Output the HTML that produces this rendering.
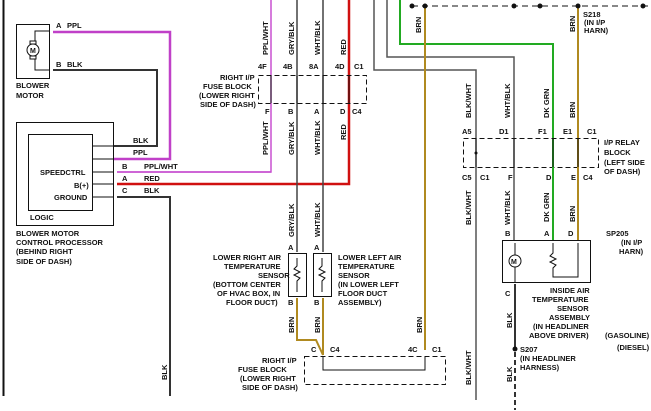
<!DOCTYPE html>
<html><head><style>
html,body{margin:0;padding:0;background:#fff;}
svg{display:block;}
text{font-family:"Liberation Sans",sans-serif;font-size:7.5px;font-weight:bold;fill:#111;}
</style></head><body>
<svg width="651" height="411" viewBox="0 0 651 411" xmlns="http://www.w3.org/2000/svg">
<rect width="651" height="411" fill="#fff"/>
<!-- left border -->
<line x1="3.5" y1="0" x2="3.5" y2="396" stroke="#111" stroke-width="2"/>
<!-- blower motor -->
<rect x="16.5" y="24.5" width="33" height="54" fill="none" stroke="#111"/>
<circle cx="33" cy="50" r="6" fill="none" stroke="#111"/>
<text x="30" y="53" style="font-size:7px">M</text>
<rect x="30" y="41" width="6" height="3" fill="none" stroke="#111"/>
<rect x="30" y="56" width="6" height="3" fill="none" stroke="#111"/>
<polyline points="35,41 35,31 50,31" fill="none" stroke="#111"/>
<polyline points="35,59 35,70 50,70" fill="none" stroke="#111"/>
<text x="56" y="28">A</text><text x="67" y="28">PPL</text>
<text x="56" y="67">B</text><text x="67" y="67">BLK</text>
<text x="16" y="88">BLOWER</text><text x="16" y="98">MOTOR</text>
<!-- PPL -->
<polyline points="53,32 170,32 170,159 113,159" fill="none" stroke="#c040c8" stroke-width="2.5"/>
<polyline points="53,70 157,70 157,146 113,146" fill="none" stroke="#333" stroke-width="2"/>
<text x="133" y="143">BLK</text><text x="133" y="155">PPL</text>
<!-- processor -->
<rect x="16.5" y="122.5" width="97" height="103" fill="none" stroke="#111"/>
<rect x="28.5" y="134.5" width="64" height="76" fill="none" stroke="#111"/>
<line x1="92" y1="146" x2="113" y2="146" stroke="#111"/>
<line x1="92" y1="159" x2="113" y2="159" stroke="#111"/>
<line x1="92" y1="172" x2="113" y2="172" stroke="#111"/>
<line x1="92" y1="184" x2="113" y2="184" stroke="#111"/>
<line x1="92" y1="197" x2="113" y2="197" stroke="#111"/>
<text x="40" y="175">SPEEDCTRL</text><text x="74" y="188">B(+)</text><text x="54" y="200">GROUND</text>
<text x="30" y="220">LOGIC</text>
<text x="16" y="236">BLOWER MOTOR</text><text x="16" y="245">CONTROL PROCESSOR</text>
<text x="16" y="254">(BEHIND RIGHT</text><text x="16" y="264">SIDE OF DASH)</text>
<text x="122" y="169">B</text><text x="144" y="169">PPL/WHT</text>
<text x="122" y="181">A</text><text x="144" y="181">RED</text>
<text x="122" y="193">C</text><text x="144" y="193">BLK</text>
<line x1="117" y1="172" x2="271" y2="172" stroke="#c850d0" stroke-width="1.5"/>
<polyline points="117,172 271,172 271,0" fill="none" stroke="#c850d0" stroke-width="1.5"/>
<polyline points="117,184 349,184 349,0" fill="none" stroke="#d01010" stroke-width="2.5"/>
<polyline points="117,197 170,197 170,396" fill="none" stroke="#333" stroke-width="2"/>
<text transform="translate(167,380) rotate(-90)">BLK</text>
<!-- top wires -->
<line x1="297" y1="0" x2="297" y2="252" stroke="#444" stroke-width="1.5"/>
<line x1="323" y1="0" x2="323" y2="252" stroke="#444" stroke-width="1.5"/>
<polyline points="374,0 374,70 476,70 476,400" fill="none" stroke="#555" stroke-width="1.5"/>
<polyline points="387,0 387,57 514,57 514,240" fill="none" stroke="#555" stroke-width="1.5"/>
<polyline points="400,0 400,44 553,44 553,240" fill="none" stroke="#22aa22" stroke-width="2"/>
<line x1="425" y1="7" x2="425" y2="350" stroke="#b08a20" stroke-width="2"/>
<line x1="578" y1="7" x2="578" y2="240" stroke="#b08a20" stroke-width="2"/>
<line x1="412" y1="6" x2="651" y2="6" stroke="#111" stroke-dasharray="6,4"/>
<g fill="#111"><circle cx="412" cy="6" r="2.5"/><circle cx="425" cy="6" r="2.5"/><circle cx="514" cy="6" r="2.5"/><circle cx="540" cy="6" r="2.5"/><circle cx="578" cy="6" r="2.5"/><circle cx="643" cy="6" r="2.5"/></g>
<text x="583" y="17">S218</text><text x="584" y="25">(IN I/P</text><text x="584" y="33">HARN)</text>
<text transform="translate(421,33) rotate(-90)">BRN</text>
<text transform="translate(575,32) rotate(-90)">BRN</text>
<!-- rotated labels top -->
<text transform="translate(268,55) rotate(-90)">PPL/WHT</text>
<text transform="translate(294,55) rotate(-90)">GRY/BLK</text>
<text transform="translate(320,55) rotate(-90)">WHT/BLK</text>
<text transform="translate(346,55) rotate(-90)">RED</text>
<!-- fuse block -->
<rect x="258.5" y="75.5" width="108" height="28" fill="none" stroke="#111" stroke-dasharray="5,3"/>
<g stroke="#111" fill="none">
<line x1="271" y1="76" x2="271" y2="103"/><line x1="297" y1="76" x2="297" y2="103"/><line x1="323" y1="76" x2="323" y2="103"/><line x1="349" y1="76" x2="349" y2="103"/>
</g>
<text x="258" y="69">4F</text><text x="283" y="69">4B</text><text x="309" y="69">8A</text><text x="335" y="69">4D</text><text x="354" y="69">C1</text>
<text x="265" y="114">F</text><text x="288" y="114">B</text><text x="314" y="114">A</text><text x="340" y="114">D</text><text x="352" y="114">C4</text>
<text x="220" y="80">RIGHT I/P</text><text x="203" y="89">FUSE BLOCK</text><text x="199" y="98">(LOWER RIGHT</text><text x="200" y="107">SIDE OF DASH)</text>
<text transform="translate(268,155) rotate(-90)">PPL/WHT</text>
<text transform="translate(294,155) rotate(-90)">GRY/BLK</text>
<text transform="translate(320,155) rotate(-90)">WHT/BLK</text>
<text transform="translate(346,140) rotate(-90)">RED</text>
<text transform="translate(294,237) rotate(-90)">GRY/BLK</text>
<text transform="translate(320,237) rotate(-90)">WHT/BLK</text>
<!-- sensors -->
<rect x="288.5" y="253.5" width="18" height="43" fill="none" stroke="#111"/>
<rect x="313.5" y="253.5" width="18" height="43" fill="none" stroke="#111"/>
<polyline points="297,258 297,266 294,269 300,272 294,275 300,278 297,281 297,292" fill="none" stroke="#111"/>
<polyline points="322,258 322,266 319,269 325,272 319,275 325,278 322,281 322,292" fill="none" stroke="#111"/>
<text x="288" y="250">A</text><text x="314" y="250">A</text>
<text x="288" y="305">B</text><text x="314" y="305">B</text>
<text x="213" y="260">LOWER RIGHT AIR</text><text x="224" y="269">TEMPERATURE</text><text x="258" y="278">SENSOR</text>
<text x="213" y="287">(BOTTOM CENTER</text><text x="217" y="296">OF HVAC BOX, IN</text><text x="226" y="305">FLOOR DUCT)</text>
<text x="338" y="260">LOWER LEFT AIR</text><text x="338" y="269">TEMPERATURE</text><text x="338" y="278">SENSOR</text>
<text x="338" y="287">(IN LOWER LEFT</text><text x="338" y="296">FLOOR DUCT</text><text x="338" y="305">ASSEMBLY)</text>
<polyline points="297,298 297,340 316,340 323,355" fill="none" stroke="#b08a20" stroke-width="2"/>
<line x1="323" y1="298" x2="323" y2="355" stroke="#b08a20" stroke-width="2"/>
<text transform="translate(294,333) rotate(-90)">BRN</text>
<text transform="translate(320,333) rotate(-90)">BRN</text>
<text transform="translate(422,333) rotate(-90)">BRN</text>
<rect x="304.5" y="356.5" width="141" height="28" fill="none" stroke="#111" stroke-dasharray="5,3"/>
<polyline points="323,357 323,370 425,370 425,357" fill="none" stroke="#111"/>
<text x="311" y="352">C</text><text x="330" y="352">C4</text><text x="408" y="352">4C</text><text x="432" y="352">C1</text>
<text x="262" y="363">RIGHT I/P</text><text x="238" y="372">FUSE BLOCK</text><text x="240" y="381">(LOWER RIGHT</text><text x="242" y="390">SIDE OF DASH)</text>
<!-- relay block -->
<text transform="translate(471,118) rotate(-90)">BLK/WHT</text>
<text transform="translate(510,118) rotate(-90)">WHT/BLK</text>
<text transform="translate(549,118) rotate(-90)">DK GRN</text>
<text transform="translate(575,118) rotate(-90)">BRN</text>
<rect x="463.5" y="138.5" width="135" height="29" fill="none" stroke="#111" stroke-dasharray="5,3"/>
<g stroke="#111"><line x1="476" y1="139" x2="476" y2="167"/><line x1="514" y1="139" x2="514" y2="167"/><line x1="553" y1="139" x2="553" y2="167"/><line x1="578" y1="139" x2="578" y2="167"/></g>
<circle cx="476" cy="153" r="1.5" fill="#111"/>
<text x="462" y="134">A5</text><text x="499" y="134">D1</text><text x="538" y="134">F1</text><text x="563" y="134">E1</text><text x="587" y="134">C1</text>
<text x="462" y="180">C5</text><text x="480" y="180">C1</text><text x="508" y="180">F</text><text x="546" y="180">D</text><text x="571" y="180">E</text><text x="583" y="180">C4</text>
<text x="604" y="145">I/P RELAY</text><text x="604" y="155">BLOCK</text><text x="604" y="165">(LEFT SIDE</text><text x="604" y="174">OF DASH)</text>
<line x1="553" y1="167" x2="553" y2="240" stroke="#22aa22" stroke-width="2"/>
<line x1="578" y1="167" x2="578" y2="240" stroke="#b08a20" stroke-width="2"/>
<text transform="translate(471,225) rotate(-90)">BLK/WHT</text>
<text transform="translate(471,385) rotate(-90)">BLK/WHT</text>
<text transform="translate(510,225) rotate(-90)">WHT/BLK</text>
<text transform="translate(549,222) rotate(-90)">DK GRN</text>
<text transform="translate(575,222) rotate(-90)">BRN</text>
<!-- inside air sensor -->
<rect x="502.5" y="240.5" width="88" height="42" fill="none" stroke="#111"/>
<text x="505" y="236">B</text><text x="544" y="236">A</text><text x="568" y="236">D</text>
<circle cx="515" cy="261" r="6" fill="none" stroke="#111"/>
<text x="511" y="264" style="font-size:7px">M</text>
<line x1="515" y1="243" x2="515" y2="255" stroke="#111"/>
<line x1="515" y1="267" x2="515" y2="282" stroke="#111"/>
<polyline points="553,243 553,253 550,256 556,259 550,262 556,265 553,268 553,277 578,277 578,243" fill="none" stroke="#111"/>
<text x="505" y="296">C</text>
<line x1="515" y1="284" x2="515" y2="350" stroke="#333" stroke-width="2"/>
<line x1="515" y1="352" x2="515" y2="410" stroke="#333" stroke-width="2" stroke-dasharray="5,3"/>
<circle cx="515" cy="349" r="2.5" fill="#111"/>
<text x="520" y="352">S207</text><text x="520" y="361">(IN HEADLINER</text><text x="520" y="370">HARNESS)</text>
<text transform="translate(512,328) rotate(-90)">BLK</text>
<text transform="translate(512,382) rotate(-90)">BLK</text>
<text x="550" y="293">INSIDE AIR</text><text x="532" y="302">TEMPERATURE</text><text x="557" y="311">SENSOR</text>
<text x="549" y="320">ASSEMBLY</text><text x="533" y="329">(IN HEADLINER</text><text x="529" y="338">ABOVE DRIVER)</text>
<text x="606" y="236">SP205</text><text x="621" y="245">(IN I/P</text><text x="619" y="254">HARN)</text>
<text x="605" y="338">(GASOLINE)</text><text x="617" y="350">(DIESEL)</text>
</svg>
</body></html>
